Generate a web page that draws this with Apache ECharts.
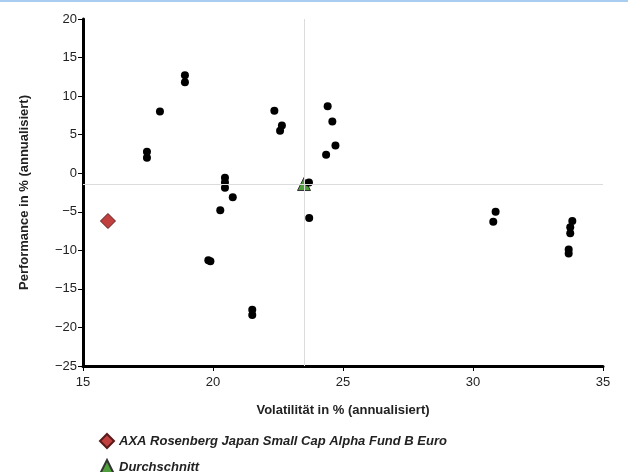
<!DOCTYPE html>
<html>
<head>
<meta charset="utf-8">
<script src="https://cdn.jsdelivr.net/npm/echarts@6/dist/echarts.min.js"></script>
<style>
body { margin: 0; background: #fff; }
#chart { width: 628px; height: 470px; border-top: 2px solid #a9cdef; }
</style>
</head>
<body>
<div id="chart"></div>
<script>
// Vergleichsgruppe (Volatilität, Performance)
var peersX = [17.46, 17.46, 17.96, 18.92, 18.92, 20.46, 20.46, 20.46, 20.76, 20.28,
	22.36, 22.65, 22.58, 24.41, 24.59, 24.71, 24.35, 23.69, 23.7,
	19.82, 19.9, 21.51, 21.51, 30.87, 30.78, 33.82, 33.74, 33.74, 33.68, 33.68];
var peersY = [2.78, 2.0, 8.0, 12.7, 11.8, -0.6, -1.2, -1.9, -3.1, -4.8,
	8.1, 6.2, 5.5, 8.7, 6.7, 3.6, 2.4, -1.2, -5.8,
	-11.3, -11.4, -17.7, -18.4, -5.0, -6.3, -6.2, -7.0, -7.8, -9.9, -10.4];
var fundName = 'AXA Rosenberg Japan Small Cap Alpha Fund B Euro';
var fundPoint = [15.96, -6.2];
var avgName = 'Durchschnitt';
var avgPoint = [23.5, -1.4];

var peers = [];
for (var i = 0; i < peersX.length; i++) {
	peers.push([peersX[i], peersY[i]]);
}

function minus(v) {
	return String(v).replace('-', '\u2212');
}

var chart = echarts.init(document.getElementById('chart'));
var option = {
	animation: false,
	textStyle: { fontFamily: 'Liberation Sans, Arial, sans-serif' },
	grid: { left: 83, right: 25, top: 17, bottom: 106 },
	legend: {
		orient: 'vertical',
		left: 94,
		top: 426,
		height: 80,
		itemGap: 10,
		itemWidth: 14,
		itemHeight: 14,
		data: [
			{ name: fundName, icon: 'diamond' },
			{ name: avgName, icon: 'triangle' }
		],
		textStyle: { fontSize: 13, fontWeight: 'bold', fontStyle: 'italic', color: '#222' }
	},
	xAxis: {
		type: 'value', min: 15, max: 35, interval: 5,
		name: 'Volatilität in % (annualisiert)',
		nameLocation: 'middle', nameGap: 38,
		nameTextStyle: { fontSize: 13, fontWeight: 'bold', color: '#222' },
		axisLine: { onZero: false, lineStyle: { color: '#000', width: 3 } },
		axisTick: { length: 5, lineStyle: { color: '#000', width: 1 } },
		axisLabel: { color: '#222', fontSize: 13, margin: 10 },
		splitLine: { show: false }
	},
	yAxis: {
		type: 'value', min: -25, max: 20, interval: 5,
		name: 'Performance in % (annualisiert)',
		nameLocation: 'middle', nameGap: 52,
		nameTextStyle: { fontSize: 13, fontWeight: 'bold', color: '#222' },
		axisLine: { show: true, onZero: false, lineStyle: { color: '#000', width: 3 } },
		axisTick: { show: true, length: 5, lineStyle: { color: '#000', width: 1 } },
		axisLabel: { color: '#222', fontSize: 13, margin: 6, formatter: minus },
		splitLine: { show: false }
	},
	series: [
		{
			name: 'Peers', type: 'scatter', symbol: 'circle', symbolSize: 8,
			itemStyle: { color: '#000', opacity: 1 },
			data: peers,
			z: 3
		},
		{
			name: avgName, type: 'scatter', symbol: 'triangle', symbolSize: 13,
			itemStyle: { color: '#4fa03a', borderColor: '#333', borderWidth: 1, opacity: 1 },
			data: [avgPoint],
			z: 2,
			markLine: {
				silent: true, symbol: 'none', label: { show: false },
				lineStyle: { color: '#dcdcdc', width: 1, type: 'solid' },
				data: [{ xAxis: avgPoint[0] }, { yAxis: avgPoint[1] }]
			}
		},
		{
			name: fundName, type: 'scatter', symbol: 'diamond', symbolSize: 15,
			itemStyle: { color: '#c0403f', borderColor: '#5a1a1a', borderWidth: 1, opacity: 1 },
			data: [fundPoint],
			z: 4
		}
	]
};
chart.setOption(option);
</script>
</body>
</html>
